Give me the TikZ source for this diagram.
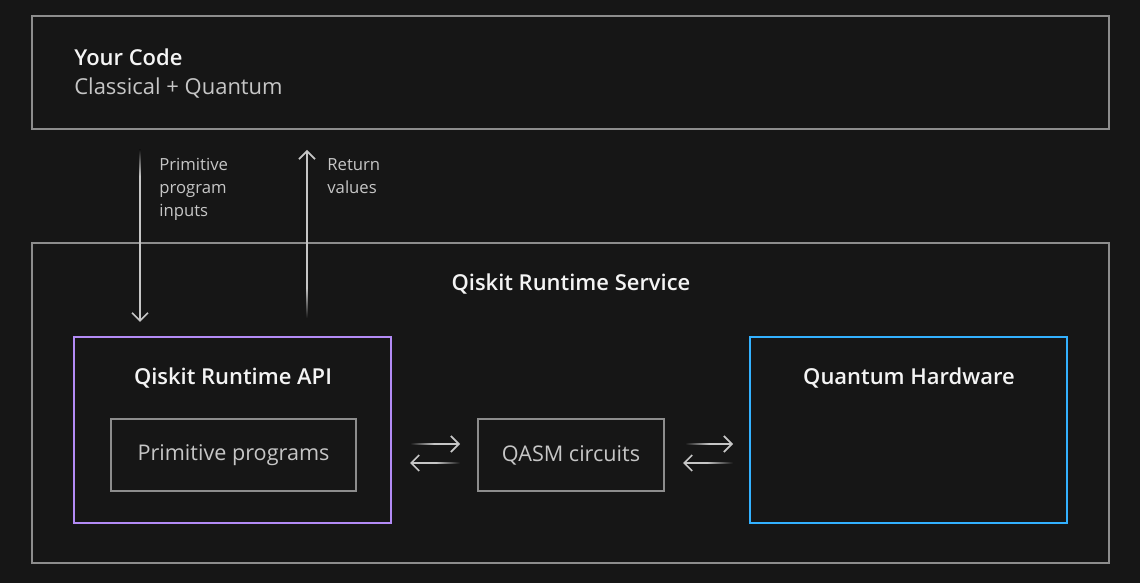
\documentclass[tikz,border=0pt]{standalone}
\usepackage{fontspec}
\setmainfont{Open Sans}[BoldFont={Open Sans Semibold}]
\usepackage{xcolor}
\usepackage{tikz}
\usetikzlibrary{arrows.meta,positioning}
\definecolor{bg}{HTML}{161616}
\definecolor{frame}{HTML}{8D8D8D}
\definecolor{text}{HTML}{F4F4F4}
\definecolor{muted}{HTML}{C6C6C6}
\definecolor{lilac}{HTML}{B38BF5}
\definecolor{sky}{HTML}{33B1FF}
\tikzset{
  box/.style={draw=frame, line width=0.4mm, fill=bg, inner sep=0pt},
  apibox/.style={draw=lilac, line width=0.4mm, inner sep=0pt},
  hwbox/.style={draw=sky, line width=0.4mm, inner sep=0pt},
  head/.style={text=text, font=\fontsize{12.5}{15}\selectfont\bfseries, inner sep=0pt},
  body/.style={text=muted, font=\fontsize{12.3}{15}\selectfont, inner sep=0pt},
  note/.style={text=muted, font=\fontsize{9.5}{13}\selectfont, align=left, inner sep=0pt},
  flow/.style={draw=muted, line width=0.35mm, -{Straight Barb[length=1.6mm,width=3.2mm]}},
  tail/.style={draw=none},
}

\begin{document}
\begin{tikzpicture}[x=0.2mm, y=-0.2mm]
  \fill[bg] (0,0) rectangle (1140,583);
  \useasboundingbox (0,0) rectangle (1140,583);

  % outer frames
  \node[box, minimum width=215.4mm, minimum height=22.6mm] (code) at (570.5,72.5) {};
  \node[box, minimum width=215.4mm, minimum height=64mm] (service) at (570.5,403) {};
  \node[head, anchor=west] (codet) at (74,57) {Your Code};
  \node[body, font=\fontsize{12.5}{15}\selectfont, anchor=west] (codes) at (74,88) {Classical + Quantum};
  \node[head] (servicet) at (571,284) {Qiskit Runtime Service};

  % inner boxes
  \node[apibox, minimum width=63.4mm, minimum height=37.2mm] (api) at (232.5,430) {};
  \node[head] (apit) at (233,378) {Qiskit Runtime API};
  \node[box, minimum width=49mm, minimum height=14.4mm] (prim) at (233.5,455) {};
  \node[body] at (prim.center) {Primitive programs};
  \node[box, minimum width=37.2mm, minimum height=14.4mm] (qasm) at (571,455) {};
  \node[body] at (qasm.center) {QASM circuits};
  \node[hwbox, minimum width=63.4mm, minimum height=37.2mm] (hw) at (908.5,430) {};
  \node[head] (hwt) at (909,378) {Quantum Hardware};

  % code <-> api
  \coordinate (inA) at (140,150);
  \coordinate (inM) at (140,176);
  \coordinate (inB) at (140,322);
  \coordinate (outA) at (307,318);
  \coordinate (outM) at (307,288);
  \coordinate (outB) at (307,150);
  \shade[tail, top color=bg, bottom color=muted] (139.1,150) rectangle (140.9,176);
  \draw[flow] (inM) -- (inB);
  \shade[tail, top color=muted, bottom color=bg] (306.1,288) rectangle (307.9,318);
  \draw[flow] (outM) -- (outB);
  \node[note, anchor=north west] (inl) at (159,158) {Primitive\\program\\inputs};
  \node[note, anchor=north west] (outl) at (327,158) {Return\\values};

  % exchange arrows
  \coordinate (l1) at (434,444); \coordinate (l2) at (460,444);
  \coordinate (l3) at (436,463); \coordinate (l4) at (410,463);
  \coordinate (r1) at (709,444); \coordinate (r2) at (733,444);
  \coordinate (r3) at (707,463); \coordinate (r4) at (683,463);
  \shade[tail, left color=bg, right color=muted] (410,443.1) rectangle (434,444.9);
  \draw[flow] (l1) -- (l2);
  \shade[tail, left color=muted, right color=bg] (436,462.1) rectangle (460,463.9);
  \draw[flow] (l3) -- (l4);
  \shade[tail, left color=bg, right color=muted] (685,443.1) rectangle (709,444.9);
  \draw[flow] (r1) -- (r2);
  \shade[tail, left color=muted, right color=bg] (707,462.1) rectangle (733,463.9);
  \draw[flow] (r3) -- (r4);
\end{tikzpicture}
\end{document}
